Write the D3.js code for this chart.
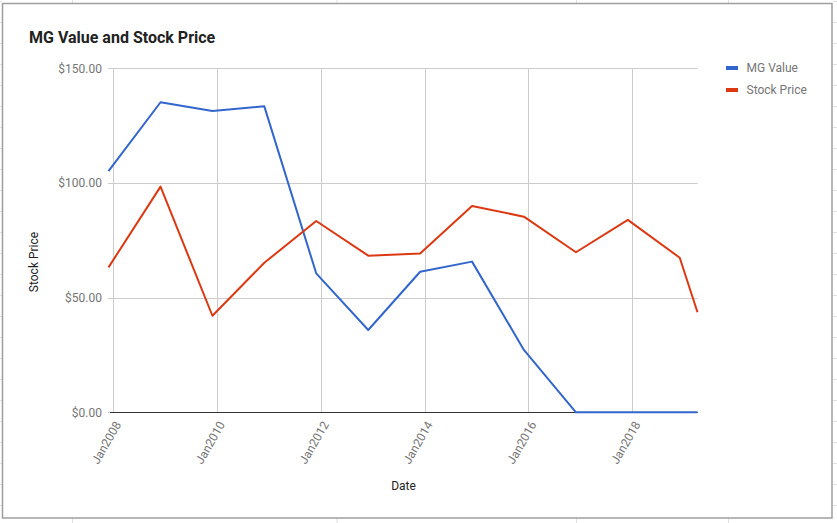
<!DOCTYPE html>
<html>
<head>
<meta charset="utf-8">
<script src="https://cdn.jsdelivr.net/npm/d3@7"></script>
<style>
  html, body { margin: 0; padding: 0; background: #fff; }
  svg { display: block; font-family: Roboto, Arial, sans-serif; }
</style>
</head>
<body>
<svg id="chart" width="837" height="523"></svg>
<script>
// ---- Data ----
const dates = ["2007-12-01","2008-12-01","2009-12-01","2010-12-01","2011-12-01","2012-12-01",
               "2013-12-01","2014-12-01","2015-12-01","2016-12-01","2017-12-01","2018-12-01","2019-04-05"];
const mgValue = [105.2, 135.2, 131.4, 133.4, 60.6, 35.9, 61.3, 65.7, 27.2, 0, 0, 0, 0];
const stockPrice = [63.2, 98.4, 42.1, 65.2, 83.4, 68.3, 69.2, 90.0, 85.3, 69.8, 83.9, 67.4, 43.6];
const seriesNames = ["MG Value", "Stock Price"];
const seriesColors = ["#3366cc", "#dc3912"];
const yTicks = [0, 50, 100, 150];
const xTickDates = ["2008-01-01","2010-01-01","2012-01-01","2014-01-01","2016-01-01","2018-01-01"];
const title = "MG Value and Stock Price";
const yTitle = "Stock Price";
const xTitle = "Date";

const parse = d3.timeParse("%Y-%m-%d");
const fmtTick = d3.timeFormat("%b%Y");

const svg = d3.select("#chart");
const W = 837, H = 523;

// ---- spreadsheet background lines ----
const bg = svg.append("g").attr("stroke", "#e0e0e0").attr("stroke-width", 1);
[72.5, 337, 576.5, 728.5].forEach(x => {
  bg.append("line").attr("x1", x).attr("x2", x).attr("y1", 0).attr("y2", 3);
  bg.append("line").attr("x1", x).attr("x2", x).attr("y1", 518).attr("y2", H);
});
d3.range(-1, 24).forEach(k => {
  const y = Math.round(21.7 + 21.01 * k) + 0.5;
  bg.append("line").attr("x1", 0).attr("x2", 2).attr("y1", y).attr("y2", y);
  bg.append("line").attr("x1", 833).attr("x2", W).attr("y1", y).attr("y2", y);
});

// frame
svg.append("rect").attr("x", 2.5).attr("y", 3.5).attr("width", 829.5).attr("height", 514.5)
  .attr("fill", "#fff").attr("stroke", "#9e9e9e").attr("stroke-width", 1.5);

// ---- scales ----
const plotL = 110, plotR = 697.7, plotT = 68.3, plotB = 412.3;
const x = d3.scaleTime()
  .domain([parse(dates[0]), parse(dates[dates.length - 1])])
  .range([108.5, 697.5]);
const y = d3.scaleLinear().domain([0, 150]).range([plotB, plotT]);

// gridlines
const grid = svg.append("g");
grid.selectAll("line.h").data(yTicks).join("line")
  .attr("x1", plotL - 2).attr("x2", plotR)
  .attr("y1", d => Math.round(y(d)) + 0.5).attr("y2", d => Math.round(y(d)) + 0.5)
  .attr("stroke", "#cccccc").attr("stroke-width", 1);
grid.selectAll("line.v").data(xTickDates.map(parse)).join("line")
  .attr("x1", d => Math.round(x(d)) + 0.5).attr("x2", d => Math.round(x(d)) + 0.5)
  .attr("y1", plotT).attr("y2", plotB)
  .attr("stroke", "#cccccc").attr("stroke-width", 1);

// zero baseline
svg.append("line").attr("x1", plotL).attr("x2", plotR)
  .attr("y1", Math.round(y(0)) + 0.5).attr("y2", Math.round(y(0)) + 0.5)
  .attr("stroke", "#333333").attr("stroke-width", 1);

// y axis labels
svg.append("g").selectAll("text").data(yTicks).join("text")
  .attr("x", 102).attr("y", d => y(d)).attr("dy", "0.35em")
  .attr("text-anchor", "end").attr("font-size", 12).attr("fill", "#757575")
  .text(d => d3.format("$,.2f")(d));

// x axis labels
svg.append("g").selectAll("text").data(xTickDates.map(parse)).join("text")
  .attr("transform", d => `translate(${x(d) + 5},${plotB + 10}) rotate(-60)`)
  .attr("text-anchor", "end").attr("dy", "0.35em")
  .attr("font-size", 12).attr("fill", "#757575")
  .text(d => fmtTick(d));

// lines
const seriesData = [mgValue, stockPrice];
const line = d3.line().x((d, i) => x(parse(dates[i]))).y(d => y(d));
seriesData.forEach((s, k) => {
  svg.append("path").datum(s).attr("d", line)
    .attr("fill", "none").attr("stroke", seriesColors[k]).attr("stroke-width", 2)
    .attr("stroke-linejoin", "round");
});

// title
svg.append("text").attr("x", 29).attr("y", 43)
  .attr("font-size", 16).attr("font-weight", "bold").attr("fill", "#222")
  .text(title);

// axis titles
svg.append("text").attr("transform", "translate(38,262) rotate(-90)")
  .attr("text-anchor", "middle").attr("font-size", 12).attr("fill", "#222")
  .text(yTitle);
svg.append("text").attr("x", 403.5).attr("y", 490)
  .attr("text-anchor", "middle").attr("font-size", 12).attr("fill", "#222")
  .text(xTitle);

// legend
const lg = svg.append("g");
seriesNames.forEach((n, k) => {
  const cy = 68 + k * 22;
  lg.append("rect").attr("x", 726).attr("y", cy - 2).attr("width", 12).attr("height", 4)
    .attr("fill", seriesColors[k]);
  lg.append("text").attr("x", 746.5).attr("y", cy).attr("dy", "0.35em")
    .attr("font-size", 12).attr("fill", "#757575").text(n);
});
</script>
</body>
</html>
